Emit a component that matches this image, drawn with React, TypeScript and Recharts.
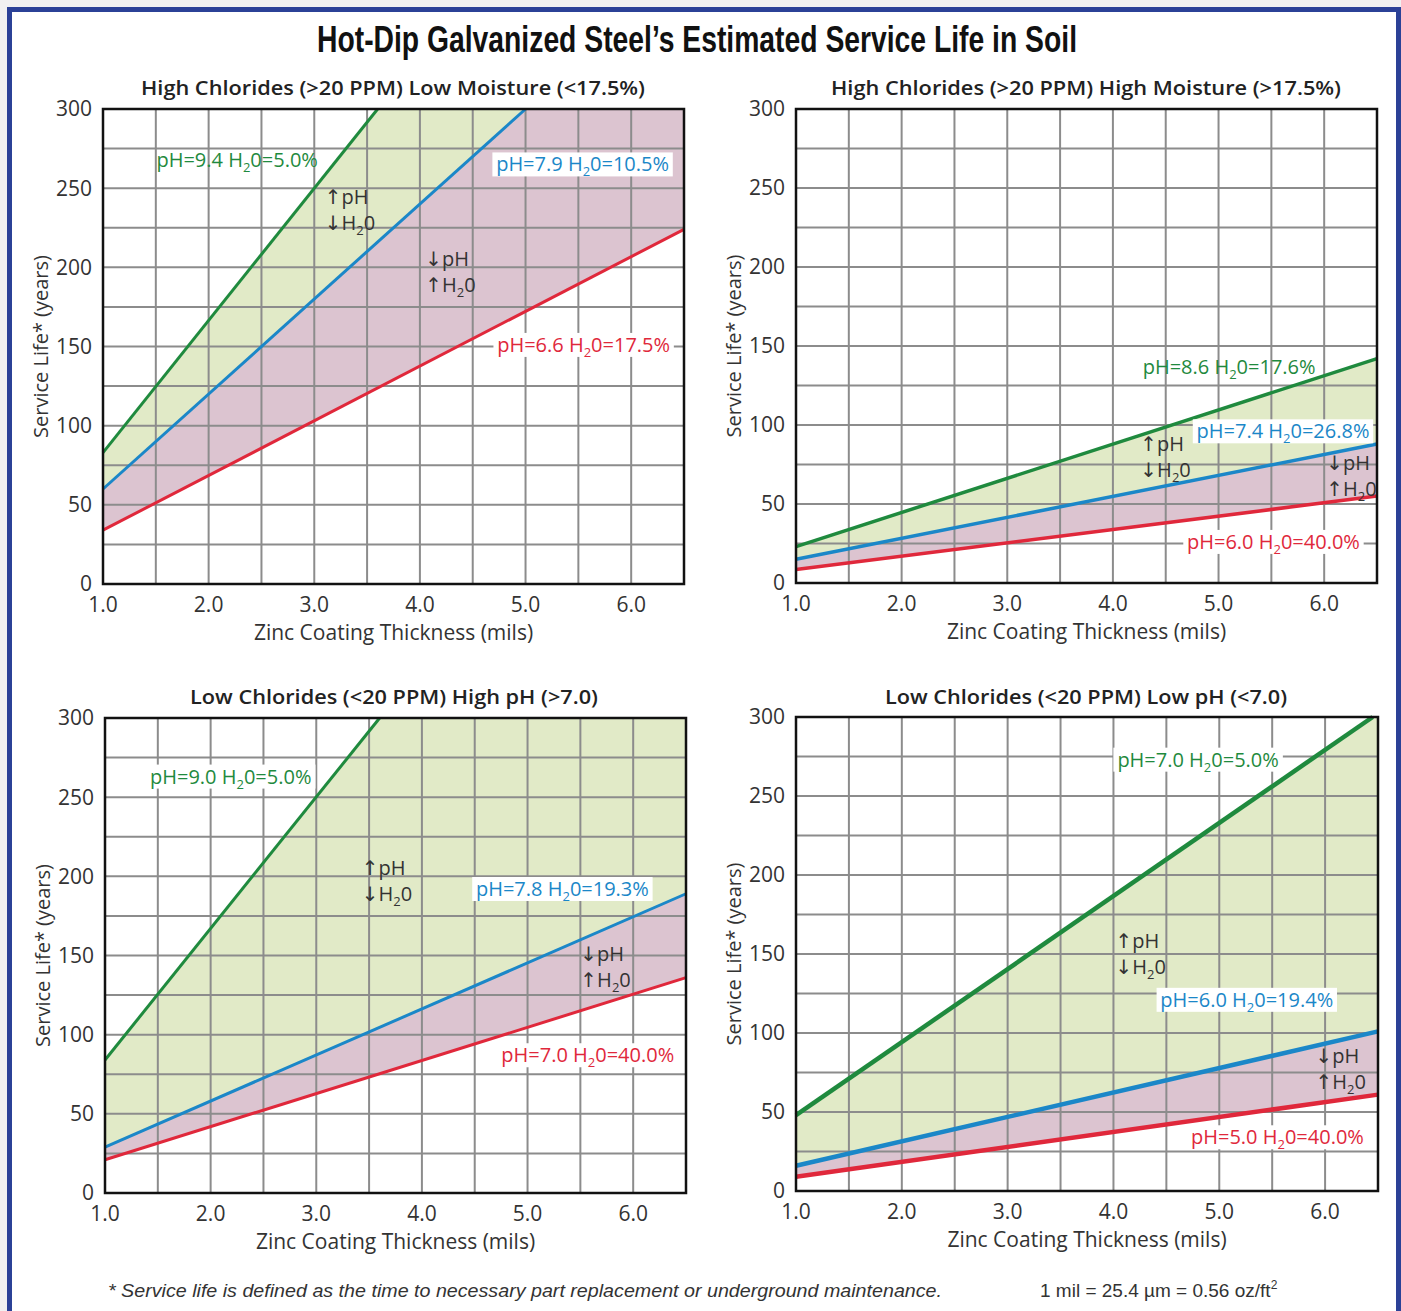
import React from "react";
import {
  ComposedChart,
  Line,
  Area,
  XAxis,
  YAxis,
  CartesianGrid,
  ReferenceArea,
  ReferenceDot,
} from "recharts";

type Pt = { x: number; y: number };

const xTicks = [1, 1.5, 2, 2.5, 3, 3.5, 4, 4.5, 5, 5.5, 6, 6.5];
const yTicks = [0, 25, 50, 75, 100, 125, 150, 175, 200, 225, 250, 275, 300];

// High chlorides (>20 PPM), low moisture (<17.5%)
const hcLowMoistHigh: Pt[] = [{ x: 1, y: 83 }, { x: 3.6, y: 300 }];
const hcLowMoistMid: Pt[] = [{ x: 1, y: 60 }, { x: 5.0, y: 300 }];
const hcLowMoistLow: Pt[] = [{ x: 1, y: 34 }, { x: 6.5, y: 224 }];
const hcLowMoistLabels = ["pH=9.4 H₂0=5.0%", "pH=7.9 H₂0=10.5%", "pH=6.6 H₂0=17.5%"];

// High chlorides (>20 PPM), high moisture (>17.5%)
const hcHighMoistHigh: Pt[] = [{ x: 1, y: 23 }, { x: 6.5, y: 142 }];
const hcHighMoistMid: Pt[] = [{ x: 1, y: 15 }, { x: 6.5, y: 88 }];
const hcHighMoistLow: Pt[] = [{ x: 1, y: 8.5 }, { x: 6.5, y: 55 }];
const hcHighMoistLabels = ["pH=8.6 H₂0=17.6%", "pH=7.4 H₂0=26.8%", "pH=6.0 H₂0=40.0%"];

// Low chlorides (<20 PPM), high pH (>7.0)
const lcHighPhHigh: Pt[] = [{ x: 1, y: 84 }, { x: 3.6, y: 300 }];
const lcHighPhMid: Pt[] = [{ x: 1, y: 29 }, { x: 6.5, y: 189 }];
const lcHighPhLow: Pt[] = [{ x: 1, y: 21 }, { x: 6.5, y: 136 }];
const lcHighPhLabels = ["pH=9.0 H₂0=5.0%", "pH=7.8 H₂0=19.3%", "pH=7.0 H₂0=40.0%"];

// Low chlorides (<20 PPM), low pH (<7.0)
const lcLowPhHigh: Pt[] = [{ x: 1, y: 48 }, { x: 6.45, y: 300 }];
const lcLowPhMid: Pt[] = [{ x: 1, y: 16 }, { x: 6.5, y: 101 }];
const lcLowPhLow: Pt[] = [{ x: 1, y: 9 }, { x: 6.5, y: 61 }];
const lcLowPhLabels = ["pH=7.0 H₂0=5.0%", "pH=6.0 H₂0=19.4%", "pH=5.0 H₂0=40.0%"];

const upNote = ["↑pH", "↓H₂0"];
const downNote = ["↓pH", "↑H₂0"];

const GREEN = "#1f8a3e";
const BLUE = "#1b87c8";
const RED = "#e0283b";
const GREEN_FILL = "#e1eac7";
const PINK_FILL = "#dcc4d0";
const TEXT = "#333";
const FONT = "'Open Sans', 'DejaVu Sans', sans-serif";

// the coloured bands run up to the top of the plot once a line leaves it
const toTop = (pts: Pt[]): Pt[] =>
  pts[pts.length - 1].x < 6.5 ? [...pts, { x: 6.5, y: 300 }] : pts;

function withSub(s: string) {
  const [head, tail] = s.split("₂");
  if (tail === undefined) return <>{s}</>;
  return (
    <>
      {head}
      <tspan fontSize={13} dy={5}>2</tspan>
      <tspan dy={-5}>{tail}</tspan>
    </>
  );
}

function Tag(props: any) {
  const { viewBox, text, color, boxed } = props;
  if (!viewBox) return null;
  const cx = viewBox.x + (viewBox.width || 0) / 2;
  const cy = viewBox.y + (viewBox.height || 0) / 2;
  const w = text.length * 10.9;
  return (
    <g>
      {boxed && <rect x={cx - w / 2 - 3} y={cy - 12} width={w + 6} height={24} fill="#fff" />}
      <text x={cx} y={cy + 7} textAnchor="middle" fontSize={20} fill={color} fontFamily={FONT}>
        {withSub(text)}
      </text>
    </g>
  );
}

function Trend(props: any) {
  const { viewBox, lines } = props;
  if (!viewBox) return null;
  const x = viewBox.x + (viewBox.width || 0) / 2;
  const cy = viewBox.y + (viewBox.height || 0) / 2;
  return (
    <g fontSize={20} fill={TEXT} fontFamily={FONT}>
      {lines.map((l: string, i: number) => (
        <text key={i} x={x} y={cy - 6 + i * 26}>
          {withSub(l)}
        </text>
      ))}
    </g>
  );
}

type Spot = { x: number; y: number };

const panels = [
  {
    box: { left: 20, top: 94, w: 679, h: 560 },
    lw: 3,
    high: hcLowMoistHigh,
    mid: hcLowMoistMid,
    low: hcLowMoistLow,
    labels: hcLowMoistLabels,
    spots: [{ x: 2.27, y: 268 }, { x: 5.54, y: 265 }, { x: 5.55, y: 151 }] as Spot[],
    boxed: [false, true, true],
    trends: [{ x: 3.1, y: 236 }, { x: 4.05, y: 197 }] as Spot[],
  },
  {
    box: { left: 713, top: 94, w: 679, h: 559 },
    lw: 3.5,
    high: hcHighMoistHigh,
    mid: hcHighMoistMid,
    low: hcHighMoistLow,
    labels: hcHighMoistLabels,
    spots: [{ x: 5.1, y: 137 }, { x: 5.61, y: 96 }, { x: 5.52, y: 26 }] as Spot[],
    boxed: [false, true, true],
    trends: [{ x: 4.26, y: 80 }, { x: 6.02, y: 68 }] as Spot[],
  },
  {
    box: { left: 22, top: 703, w: 679, h: 560 },
    lw: 3,
    high: lcHighPhHigh,
    mid: lcHighPhMid,
    low: lcHighPhLow,
    labels: lcHighPhLabels,
    spots: [{ x: 2.19, y: 263 }, { x: 5.33, y: 192 }, { x: 5.57, y: 87 }] as Spot[],
    boxed: [true, true, true],
    trends: [{ x: 3.43, y: 197 }, { x: 5.5, y: 143 }] as Spot[],
  },
  {
    box: { left: 713, top: 702, w: 680, h: 559 },
    lw: 4.5,
    high: lcLowPhHigh,
    mid: lcLowPhMid,
    low: lcLowPhLow,
    labels: lcLowPhLabels,
    spots: [{ x: 4.8, y: 273 }, { x: 5.26, y: 121 }, { x: 5.55, y: 34 }] as Spot[],
    boxed: [true, true, true],
    trends: [{ x: 4.02, y: 150 }, { x: 5.91, y: 77 }] as Spot[],
  },
];

const subTitles = [
  { x: 393, y: 95, w: 504, text: "High Chlorides (>20 PPM) Low Moisture (<17.5%)" },
  { x: 1086, y: 95, w: 510, text: "High Chlorides (>20 PPM) High Moisture (>17.5%)" },
  { x: 394, y: 704, w: 408, text: "Low Chlorides (<20 PPM) High pH (>7.0)" },
  { x: 1086, y: 704, w: 402, text: "Low Chlorides (<20 PPM) Low pH (<7.0)" },
];

function Panel({ p }: { p: (typeof panels)[number] }) {
  const lineColors = [GREEN, BLUE, RED];
  return (
    <div style={{ position: "absolute", left: p.box.left, top: p.box.top }}>
      <ComposedChart
        width={p.box.w}
        height={p.box.h}
        margin={{ top: 15, right: 15, bottom: 10, left: 20 }}
      >
        <XAxis
          type="number"
          dataKey="x"
          domain={[1, 6.5]}
          ticks={xTicks}
          interval={0}
          tickFormatter={(v: number) => (Number.isInteger(v) ? v.toFixed(1) : "")}
          tickLine={false}
          axisLine={false}
          tickMargin={7}
          height={60}
          tick={{ fill: TEXT, fontSize: 21, fontFamily: FONT }}
          label={{
            value: "Zinc Coating Thickness (mils)",
            position: "insideBottom",
            offset: 4,
            fill: TEXT,
            fontSize: 21,
            fontFamily: FONT,
          }}
        />
        <YAxis
          type="number"
          domain={[0, 300]}
          ticks={yTicks}
          interval={0}
          tickFormatter={(v: number) => (v % 50 === 0 ? String(v) : "")}
          tickLine={false}
          axisLine={false}
          tickMargin={5}
          width={63}
          tick={{ fill: TEXT, fontSize: 21, fontFamily: FONT }}
          label={{
            value: "Service Life* (years)",
            angle: -90,
            position: "insideLeft",
            offset: 1,
            fill: TEXT,
            fontSize: 20,
            fontFamily: FONT,
            style: { textAnchor: "middle" },
          }}
        />
        <Area data={toTop(p.high)} dataKey="y" type="linear" stroke="none" fill={GREEN_FILL} fillOpacity={1} dot={false} activeDot={false} isAnimationActive={false} />
        <Area data={toTop(p.mid)} dataKey="y" type="linear" stroke="none" fill={PINK_FILL} fillOpacity={1} dot={false} activeDot={false} isAnimationActive={false} />
        <Area data={p.low} dataKey="y" type="linear" stroke="none" fill="#fff" fillOpacity={1} dot={false} activeDot={false} isAnimationActive={false} />
        <CartesianGrid stroke="#8c8c8c" strokeWidth={2} {...({ zIndex: 150 } as any)} />
        {[p.high, p.mid, p.low].map((d, i) => (
          <Line
            key={i}
            data={d}
            dataKey="y"
            type="linear"
            stroke={lineColors[i]}
            strokeWidth={p.lw}
            dot={false}
            activeDot={false}
            isAnimationActive={false}
          />
        ))}
        <ReferenceArea
          x1={1}
          x2={6.5}
          y1={0}
          y2={300}
          fill="none"
          fillOpacity={0}
          stroke="#111"
          strokeWidth={2.5}
          {...({ zIndex: 450 } as any)}
        />
        {p.labels.map((t, i) => (
          <ReferenceDot
            key={"l" + i}
            x={p.spots[i].x}
            y={p.spots[i].y}
            r={0}
            fill="none"
            stroke="none"
            label={<Tag text={t} color={lineColors[i]} boxed={p.boxed[i]} />}
          />
        ))}
        {p.trends.map((s, i) => (
          <ReferenceDot
            key={"t" + i}
            x={s.x}
            y={s.y}
            r={0}
            fill="none"
            stroke="none"
            label={<Trend lines={i === 0 ? upNote : downNote} />}
          />
        ))}
      </ComposedChart>
    </div>
  );
}

export default function App() {
  return (
    <div style={{ position: "absolute", left: 0, top: 0, width: 1401, height: 1311, overflow: "hidden" }}>
      <svg width={1401} height={1311} style={{ position: "absolute", left: 0, top: 0 }}>
        <rect x={0} y={0} width={1401} height={1311} fill="#f1f1f1" />
        <rect x={9.5} y={9.5} width={1389} height={1320} fill="#fff" stroke="#2b4197" strokeWidth={5} />
        <text
          x={697}
          y={52}
          textAnchor="middle"
          fontFamily="'Liberation Sans Narrow', sans-serif"
          fontWeight="bold"
          fontSize={36}
          fill="#111"
          textLength={760}
          lengthAdjust="spacingAndGlyphs"
        >
          Hot-Dip Galvanized Steel’s Estimated Service Life in Soil
        </text>
        {subTitles.map((s, i) => (
          <text
            key={i}
            x={s.x}
            y={s.y}
            textAnchor="middle"
            fontFamily={FONT}
            fontWeight={600}
            fontSize={20}
            fill="#222"
            textLength={s.w}
            lengthAdjust="spacingAndGlyphs"
          >
            {s.text}
          </text>
        ))}
        <text
          x={108}
          y={1297}
          fontFamily="'Liberation Sans Narrow', sans-serif"
          fontStyle="italic"
          fontSize={19}
          fill="#333"
          textLength={834}
          lengthAdjust="spacingAndGlyphs"
        >
          * Service life is defined as the time to necessary part replacement or underground maintenance.
        </text>
        <text
          x={1040}
          y={1297}
          fontFamily="'Liberation Sans Narrow', sans-serif"
          fontSize={19}
          fill="#333"
        >
          1 mil = 25.4 µm = 0.56 oz/ft<tspan fontSize={12} dy={-8}>2</tspan>
        </text>
      </svg>
      {panels.map((p, i) => (
        <Panel key={i} p={p} />
      ))}
    </div>
  );
}
